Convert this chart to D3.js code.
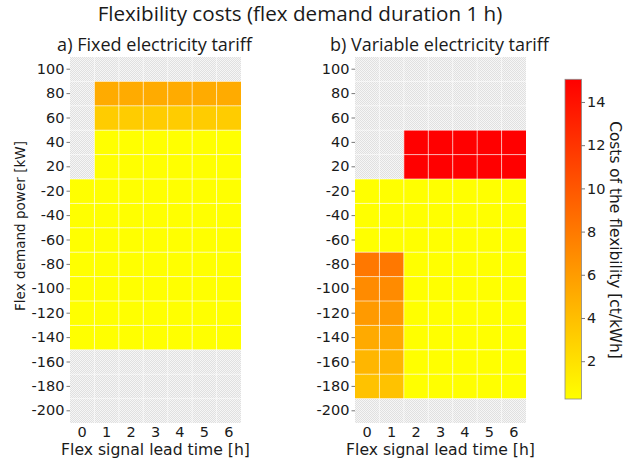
<!DOCTYPE html>
<html>
<head>
<meta charset="utf-8">
<script src="https://cdn.jsdelivr.net/npm/d3@7"></script>
<style>
  html, body { margin: 0; padding: 0; background: #fff; }
  svg text { fill: #1a1a1a; }
</style>
</head>
<body>
<svg id="chart" width="623" height="467"></svg>
<script>
// Lead times of the flex signal [h] (columns)
const leadTimes = [0, 1, 2, 3, 4, 5, 6];
// Flex demand power [kW] (rows, top to bottom)
const powers = [100, 80, 60, 40, 20, -20, -40, -60, -80, -100, -120, -140, -160, -180, -200];

// Costs of the flexibility [ct/kWh]; null = no feasible schedule
const fixedTariffCosts = [
  [null, null, null, null, null, null, null],
  [null, 5.1, 5.1, 5.1, 5.1, 5.1, 5.1],
  [null, 3.2, 3.2, 3.2, 3.2, 3.2, 3.2],
  [null, 0.25, 0.25, 0.25, 0.25, 0.25, 0.25],
  [null, 0.25, 0.25, 0.25, 0.25, 0.25, 0.25],
  [0.25, 0.25, 0.25, 0.25, 0.25, 0.25, 0.25],
  [0.25, 0.25, 0.25, 0.25, 0.25, 0.25, 0.25],
  [0.25, 0.25, 0.25, 0.25, 0.25, 0.25, 0.25],
  [0.25, 0.25, 0.25, 0.25, 0.25, 0.25, 0.25],
  [0.25, 0.25, 0.25, 0.25, 0.25, 0.25, 0.25],
  [0.25, 0.25, 0.25, 0.25, 0.25, 0.25, 0.25],
  [0.25, 0.25, 0.25, 0.25, 0.25, 0.25, 0.25],
  [null, null, null, null, null, null, null],
  [null, null, null, null, null, null, null],
  [null, null, null, null, null, null, null]
];

const variableTariffCosts = [
  [null, null, null, null, null, null, null],
  [null, null, null, null, null, null, null],
  [null, null, null, null, null, null, null],
  [null, null, 15.05, 15.05, 15.05, 15.05, 15.05],
  [null, null, 15.05, 15.05, 15.05, 15.05, 15.05],
  [0.25, 0.25, 0.25, 0.25, 0.25, 0.25, 0.25],
  [0.25, 0.25, 0.25, 0.25, 0.25, 0.25, 0.25],
  [0.25, 0.25, 0.25, 0.25, 0.25, 0.25, 0.25],
  [8.1, 8.1, 0.25, 0.25, 0.25, 0.25, 0.25],
  [7.0, 7.0, 0.25, 0.25, 0.25, 0.25, 0.25],
  [6.1, 6.1, 0.25, 0.25, 0.25, 0.25, 0.25],
  [5.2, 5.2, 0.25, 0.25, 0.25, 0.25, 0.25],
  [4.5, 4.5, 0.25, 0.25, 0.25, 0.25, 0.25],
  [3.8, 3.8, 0.25, 0.25, 0.25, 0.25, 0.25],
  [null, null, null, null, null, null, null]
];

const colorbarTicks = [2, 4, 6, 8, 10, 12, 14];

const panels = [
  { title: "a) Fixed electricity tariff", costs: fixedTariffCosts, left: 70, titleWidth: 195 },
  { title: "b) Variable electricity tariff", costs: variableTariffCosts, left: 355, titleWidth: 219 }
];

const svg = d3.select("#chart");
const plotTop = 57, plotW = 171, plotH = 366;
const tickFont = "DejaVu Sans, sans-serif";
const titleFont = "Open Sans, sans-serif";

// scale a text's font size so that it spans the given length
function fitText(sel, length) {
  const size = +sel.attr("font-size");
  const measured = sel.node().getComputedTextLength();
  sel.attr("font-size", (size * length / measured).toFixed(2));
  return sel;
}

// Shared colour scale (yellow -> red), spanning all values of both panels
const allValues = panels.flatMap(p => p.costs.flat()).filter(v => v != null);
const extent = d3.extent(allValues);
const color = d3.scaleLinear().domain(extent).range(["#ffff00", "#ff0000"]);

// Fine checker used behind missing cells
const defs = svg.append("defs");
const pat = defs.append("pattern")
  .attr("id", "nodata").attr("patternUnits", "userSpaceOnUse")
  .attr("width", 2).attr("height", 2);
pat.append("rect").attr("width", 2).attr("height", 2).attr("fill", "#f6f6f6");
pat.append("rect").attr("width", 1).attr("height", 1).attr("fill", "#e0e0e0");
pat.append("rect").attr("x", 1).attr("y", 1).attr("width", 1).attr("height", 1).attr("fill", "#e0e0e0");

const x = d3.scaleBand().domain(leadTimes).range([0, plotW]);
const y = d3.scaleBand().domain(powers).range([0, plotH]);

panels.forEach(p => {
  const g = svg.append("g").attr("transform", `translate(${p.left},${plotTop})`);

  g.append("rect").attr("width", plotW).attr("height", plotH).attr("fill", "url(#nodata)");

  const cells = [];
  p.costs.forEach((row, i) => row.forEach((v, j) => {
    if (v != null) cells.push({ power: powers[i], lead: leadTimes[j], v });
  }));

  g.selectAll("rect.cell").data(cells).join("rect")
    .attr("class", "cell")
    .attr("x", d => x(d.lead)).attr("y", d => y(d.power))
    .attr("width", x.bandwidth()).attr("height", y.bandwidth())
    .attr("fill", d => color(d.v));

  // white grid at the cell boundaries
  const grid = g.append("g").attr("stroke", "#ffffff").attr("stroke-opacity", 0.6).attr("stroke-width", 1);
  leadTimes.slice(1).forEach(t => {
    grid.append("line").attr("x1", x(t)).attr("x2", x(t)).attr("y1", 0).attr("y2", plotH);
  });
  powers.slice(1).forEach(pw => {
    grid.append("line").attr("x1", 0).attr("x2", plotW).attr("y1", y(pw)).attr("y2", y(pw));
  });

  // axes
  const yAxis = g.append("g").call(d3.axisLeft(y).tickSize(3.5).tickPadding(2));
  yAxis.select(".domain").remove();
  yAxis.selectAll(".tick line").attr("stroke", "#555").attr("stroke-width", 0.8);
  yAxis.selectAll("text").attr("font-family", tickFont).attr("font-size", 14.5).attr("fill", "#1a1a1a");

  const xAxis = g.append("g").attr("transform", `translate(0,${plotH})`)
    .call(d3.axisBottom(x).tickSize(0).tickPadding(4));
  xAxis.select(".domain").remove();
  xAxis.selectAll("text").attr("font-family", tickFont).attr("font-size", 14.5).attr("fill", "#1a1a1a");

  fitText(g.append("text").attr("x", plotW / 2).attr("y", 455 - plotTop)
    .attr("text-anchor", "middle").attr("font-family", tickFont).attr("font-size", 15)
    .text("Flex signal lead time [h]"), 189);

  fitText(g.append("text").attr("x", plotW / 2 - 1).attr("y", -6)
    .attr("text-anchor", "middle").attr("font-family", titleFont).attr("font-size", 16)
    .text(p.title), p.titleWidth);
});

// y-axis title
fitText(svg.append("text")
  .attr("transform", "translate(25,226) rotate(-90)")
  .attr("text-anchor", "middle").attr("font-family", tickFont).attr("font-size", 15)
  .text("Flex demand power [kW]"), 170);

// main title
fitText(svg.append("text").attr("x", 300).attr("y", 21)
  .attr("text-anchor", "middle").attr("font-family", titleFont).attr("font-size", 18)
  .text("Flexibility costs (flex demand duration 1 h)"), 405);

// colour bar
const cbX = 565, cbW = 16.5, cbTop = 79.3, cbBottom = 399;
const cbScale = d3.scaleLinear().domain(extent).range([cbBottom, cbTop]);
const grad = defs.append("linearGradient").attr("id", "cbgrad")
  .attr("x1", 0).attr("y1", 1).attr("x2", 0).attr("y2", 0);
grad.append("stop").attr("offset", 0).attr("stop-color", color(extent[0]));
grad.append("stop").attr("offset", 1).attr("stop-color", color(extent[1]));
svg.append("rect").attr("x", cbX).attr("y", cbTop).attr("width", cbW).attr("height", cbBottom - cbTop)
  .attr("fill", "url(#cbgrad)").attr("stroke", "#8a8a8a").attr("stroke-width", 0.8);

const cbAxis = svg.append("g").attr("transform", `translate(${cbX + cbW},0)`)
  .call(d3.axisRight(cbScale).tickValues(colorbarTicks).tickSize(3.5).tickPadding(2));
cbAxis.select(".domain").remove();
cbAxis.selectAll(".tick line").attr("stroke", "#555").attr("stroke-width", 0.8);
cbAxis.selectAll("text").attr("font-family", tickFont).attr("font-size", 14.5).attr("fill", "#1a1a1a");

fitText(svg.append("text")
  .attr("transform", "translate(609.5,240) rotate(90)")
  .attr("text-anchor", "middle").attr("font-family", tickFont).attr("font-size", 15)
  .text("Costs of the flexibility [ct/kWh]"), 238);
</script>
</body>
</html>
